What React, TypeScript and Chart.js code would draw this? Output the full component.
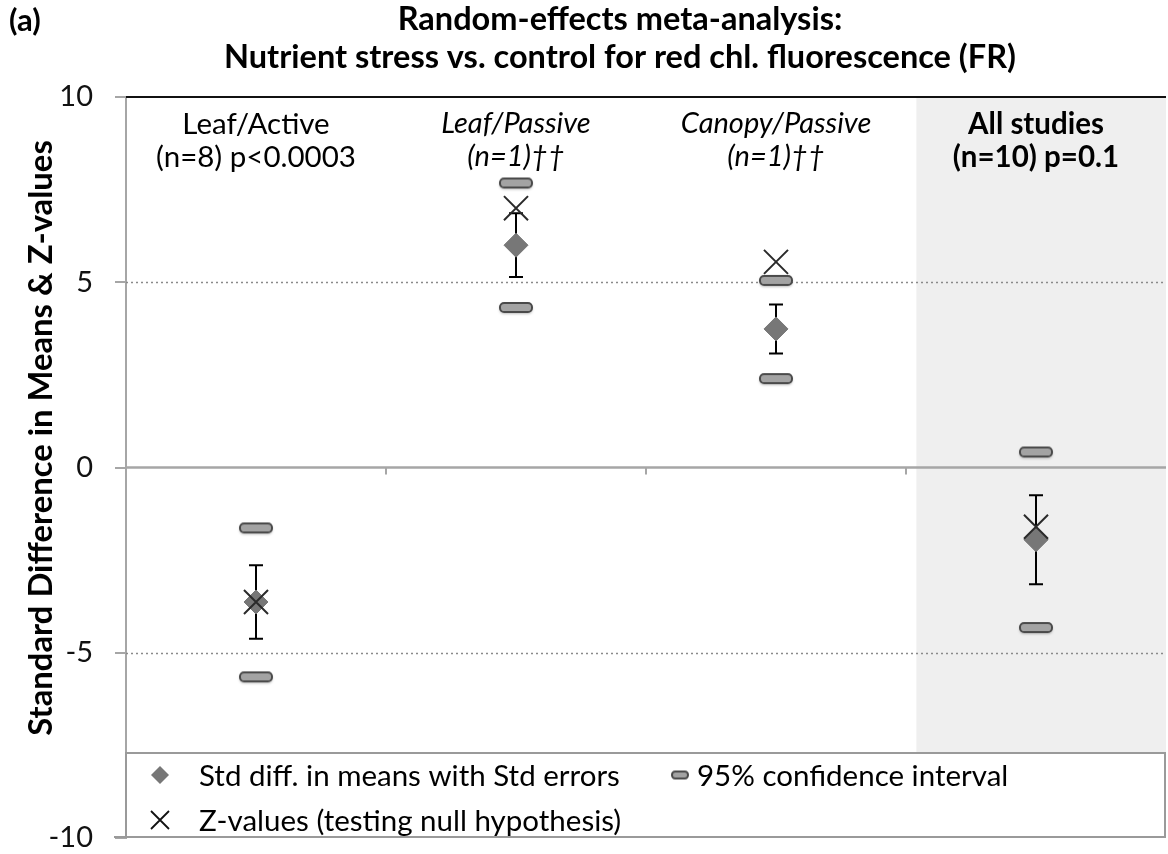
import React, { useEffect, useRef } from 'react';
import { Chart, registerables } from 'chart.js';

Chart.register(...registerables);

// ---- Data ----
const categories = ['Leaf/Active', 'Leaf/Passive', 'Canopy/Passive', 'All studies'];
const categoryDetails = ['(n=8) p<0.0003', '(n=1)\u2020\u2020', '(n=1)\u2020\u2020', '(n=10) p=0.1'];
const categoryStyles = ['normal', 'italic', 'italic', 'bold'];
const stdDiffMeans = [-3.63, 6.0, 3.74, -1.95];
const stdErrors = [0.99, 0.86, 0.66, 1.2];
const ciLower = [-5.65, 4.32, 2.4, -4.32];
const ciUpper = [-1.63, 7.68, 5.05, 0.42];
const zValues = [-3.63, 7.0, 5.55, -1.6];
const yTicks = [-10, -5, 0, 5, 10];
const dottedLines = [-5, 5];
const panelLabel = '(a)';
const titleLines = ['Random-effects meta-analysis:', 'Nutrient stress vs. control for red chl. fluorescence (FR)'];
const yAxisTitle = 'Standard Difference in Means & Z-values';
const legendMeans = 'Std diff. in means with Std errors';
const legendCI = '95% confidence interval';
const legendZ = 'Z-values (testing null hypothesis)';

const FONT = 'Lato, "Open Sans", sans-serif';

function roundRectPath(g: CanvasRenderingContext2D, x: number, y: number, w: number, h: number, r: number) {
  g.beginPath();
  g.moveTo(x + r, y);
  g.lineTo(x + w - r, y);
  g.arcTo(x + w, y, x + w, y + r, r);
  g.lineTo(x + w, y + h - r);
  g.arcTo(x + w, y + h, x + w - r, y + h, r);
  g.lineTo(x + r, y + h);
  g.arcTo(x, y + h, x, y + h - r, r);
  g.lineTo(x, y + r);
  g.arcTo(x, y, x + r, y, r);
  g.closePath();
}

function makeCiImage(w: number, h: number, shadow: boolean) {
  const c = document.createElement('canvas');
  c.width = w + 10;
  c.height = h + 10;
  const g = c.getContext('2d')!;
  if (shadow) {
    g.shadowColor = 'rgba(0,0,0,0.35)';
    g.shadowBlur = 3;
    g.shadowOffsetY = 1.5;
  }
  roundRectPath(g, 5, 5, w, h, h / 2.2);
  g.fillStyle = '#a3a3a3';
  g.fill();
  g.shadowColor = 'transparent';
  g.lineWidth = 2;
  g.strokeStyle = '#4a4a4a';
  g.stroke();
  return c;
}

const decorPlugin = {
  id: 'decor',
  beforeDatasetsDraw(chart: any) {
    const { ctx, chartArea } = chart;
    const xs = chart.scales.x;
    const ys = chart.scales.y;
    const legendTop = 753;
    ctx.save();
    // shaded "All studies" region
    ctx.fillStyle = '#efefef';
    const sx = xs.getPixelForValue(3.04);
    ctx.fillRect(sx, chartArea.top, chartArea.right - sx, legendTop - chartArea.top);

    // dotted gridlines
    ctx.strokeStyle = '#8a8a8a';
    ctx.lineWidth = 1.5;
    ctx.setLineDash([2, 3]);
    dottedLines.forEach((v) => {
      const y = Math.round(ys.getPixelForValue(v)) + 0.5;
      ctx.beginPath();
      ctx.moveTo(chartArea.left, y);
      ctx.lineTo(chartArea.right, y);
      ctx.stroke();
    });
    ctx.setLineDash([]);

    // zero line
    const y0 = ys.getPixelForValue(0);
    ctx.strokeStyle = '#a6a6a6';
    ctx.lineWidth = 2.5;
    ctx.beginPath();
    ctx.moveTo(chartArea.left, y0);
    ctx.lineTo(chartArea.right, y0);
    ctx.stroke();
    ctx.lineWidth = 2;
    for (let i = 1; i < categories.length; i++) {
      const x = Math.round(xs.getPixelForValue(i));
      ctx.beginPath();
      ctx.moveTo(x, y0);
      ctx.lineTo(x, y0 + 7);
      ctx.stroke();
    }

    // top border
    ctx.strokeStyle = '#111';
    ctx.lineWidth = 2;
    ctx.beginPath();
    ctx.moveTo(chartArea.left, chartArea.top);
    ctx.lineTo(chartArea.right, chartArea.top);
    ctx.stroke();

    // error bars
    ctx.strokeStyle = '#000';
    ctx.lineWidth = 2;
    stdDiffMeans.forEach((m, i) => {
      const x = Math.round(xs.getPixelForValue(i + 0.5));
      const yt = ys.getPixelForValue(m + stdErrors[i]);
      const yb = ys.getPixelForValue(m - stdErrors[i]);
      ctx.beginPath();
      ctx.moveTo(x, yt);
      ctx.lineTo(x, yb);
      ctx.moveTo(x - 7, yt);
      ctx.lineTo(x + 7, yt);
      ctx.moveTo(x - 7, yb);
      ctx.lineTo(x + 7, yb);
      ctx.stroke();
    });

    // category labels
    ctx.fillStyle = '#000';
    ctx.textAlign = 'center';
    ctx.textBaseline = 'middle';
    categories.forEach((c, i) => {
      const x = xs.getPixelForValue(i + 0.5);
      const st = categoryStyles[i];
      const f = st === 'italic' ? `italic 29px ${FONT}` : st === 'bold' ? `bold 29.5px ${FONT}` : `29.5px ${FONT}`;
      ctx.font = f;
      ctx.fillText(c, x, 124);
      ctx.fillText(categoryDetails[i], x, 157);
    });
    ctx.restore();
  },
  afterDraw(chart: any) {
    const { ctx, chartArea } = chart;
    ctx.save();
    // legend box
    const lt = 753;
    const lb = 837;
    ctx.fillStyle = '#fff';
    ctx.fillRect(chartArea.left, lt, chartArea.right - chartArea.left, lb - lt);
    ctx.strokeStyle = '#9a9a9a';
    ctx.lineWidth = 2;
    ctx.strokeRect(chartArea.left, lt, chartArea.right - chartArea.left - 1, lb - lt);
    ctx.beginPath();
    ctx.moveTo(114, lb);
    ctx.lineTo(chartArea.left, lb);
    ctx.stroke();

    // legend entries
    ctx.fillStyle = '#777';
    ctx.beginPath();
    ctx.moveTo(160, 775 - 9);
    ctx.lineTo(169, 775);
    ctx.lineTo(160, 775 + 9);
    ctx.lineTo(151, 775);
    ctx.closePath();
    ctx.fill();
    ctx.strokeStyle = '#111';
    ctx.lineWidth = 1.8;
    ctx.beginPath();
    ctx.moveTo(151, 811);
    ctx.lineTo(169, 829);
    ctx.moveTo(169, 811);
    ctx.lineTo(151, 829);
    ctx.stroke();
    const ci = makeCiImage(16, 7, false);
    ctx.drawImage(ci, 680 - ci.width / 2, 775 - ci.height / 2);

    ctx.fillStyle = '#000';
    ctx.textAlign = 'left';
    ctx.textBaseline = 'middle';
    ctx.font = `29.5px ${FONT}`;
    ctx.fillText(legendMeans, 199, 776);
    ctx.fillText(legendZ, 199, 821);
    ctx.fillText(legendCI, 697, 776);

    // title
    ctx.font = `bold 32.5px ${FONT}`;
    ctx.textAlign = 'center';
    ctx.fillText(titleLines[0], 620, 20);
    ctx.fillText(titleLines[1], 620, 58);
    ctx.font = `bold 31px ${FONT}`;
    ctx.textAlign = 'left';
    ctx.fillText(panelLabel, 9, 21);

    // y axis title
    ctx.translate(41, 438);
    ctx.rotate(-Math.PI / 2);
    ctx.textAlign = 'center';
    ctx.font = `bold 32.8px ${FONT}`;
    ctx.fillText(yAxisTitle, 0, 0);
    ctx.restore();
  },
};

export default function App() {
  const ref = useRef<HTMLCanvasElement>(null);
  useEffect(() => {
    const canvas = ref.current!;
    const ciImg = makeCiImage(32, 9, true);
    const xOf = (i: number) => i + 0.5;
    const chart = new Chart(canvas, {
      type: 'scatter',
      data: {
        datasets: [
          {
            label: legendZ,
            data: zValues.map((v, i) => ({ x: xOf(i), y: v })),
            pointStyle: 'crossRot',
            pointRadius: 17,
            borderColor: '#2a2a2a',
            backgroundColor: '#2a2a2a',
            pointBorderWidth: 2,
          },
          {
            label: legendMeans,
            data: stdDiffMeans.map((v, i) => ({ x: xOf(i), y: v })),
            pointStyle: 'rectRot',
            pointRadius: 12,
            borderColor: '#777',
            backgroundColor: '#777',
            pointBorderWidth: 1,
          },
          {
            label: legendCI,
            data: [
              ...ciLower.map((v, i) => ({ x: xOf(i), y: v })),
              ...ciUpper.map((v, i) => ({ x: xOf(i), y: v })),
            ],
            pointStyle: ciImg as any,
            pointRadius: 10,
          },
        ],
      },
      options: {
        animation: false,
        responsive: false,
        devicePixelRatio: 1,
        events: [],
        layout: { autoPadding: false, padding: { top: 97, right: 2, bottom: 16, left: 0 } },
        plugins: { legend: { display: false }, tooltip: { enabled: false }, title: { display: false } },
        scales: {
          x: { type: 'linear', min: 0, max: 4, display: false },
          y: {
            min: -10,
            max: 10,
            afterBuildTicks: (s: any) => {
              s.ticks = yTicks.map((v) => ({ value: v }));
            },
            afterFit: (s: any) => {
              s.width = 126;
              s.paddingTop = 0;
              s.paddingBottom = 0;
            },
            ticks: { font: { family: FONT, size: 29 }, color: '#111', padding: 22 },
            grid: { drawOnChartArea: false, tickLength: 11, color: '#a6a6a6', lineWidth: 2 },
            border: { color: '#a6a6a6', width: 2 },
          },
        },
      },
      plugins: [decorPlugin],
    });
    return () => chart.destroy();
  }, []);
  return (
    <div style={{ position: 'fixed', left: 0, top: 0, width: 1168, height: 854, overflow: 'hidden', background: '#fff' }}>
      <canvas ref={ref} width={1168} height={854} style={{ display: 'block', width: 1168, height: 854 }} />
    </div>
  );
}
